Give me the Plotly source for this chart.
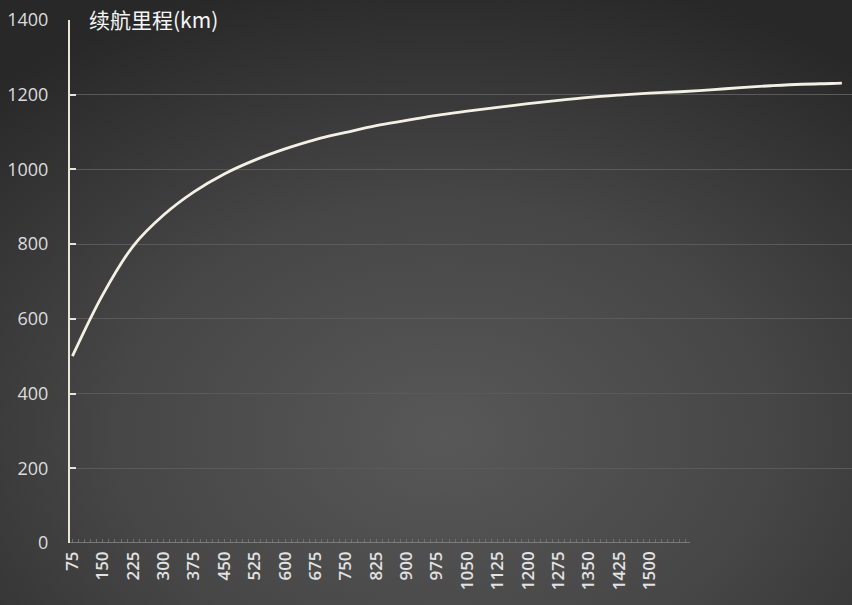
import base64
import plotly.graph_objects as go

# 数据：横轴数值与续航里程
x_vals = [75, 150, 225, 300, 375, 450, 525, 600, 675, 750, 825, 900, 975,
          1050, 1125, 1200, 1275, 1350, 1425, 1500, 1575, 1650, 1725, 1800,
          1875, 1950, 1975]
range_km = [500, 665, 795, 878, 940, 988, 1025, 1055, 1080, 1099, 1117, 1131,
            1145, 1156, 1166, 1176, 1185, 1193, 1199, 1204, 1208, 1213, 1219,
            1224, 1228, 1230, 1231]

x_tick_vals = list(range(75, 1501, 75))
x_tick_text = [str(v) for v in x_tick_vals]
y_tick_vals = [0, 200, 400, 600, 800, 1000, 1200, 1400]

W, H = 852, 605

# 径向渐变背景（SVG）
svg = f"""<svg xmlns='http://www.w3.org/2000/svg' width='{W}' height='{H}'>
<defs><radialGradient id='g' cx='0.52' cy='0.72' r='0.78'>
<stop offset='0' stop-color='#585858'/>
<stop offset='0.5' stop-color='#464646'/>
<stop offset='1' stop-color='#282828'/>
</radialGradient></defs>
<rect width='{W}' height='{H}' fill='url(#g)'/></svg>"""
bg_src = "data:image/svg+xml;base64," + base64.b64encode(svg.encode()).decode()

fig = go.Figure()
fig.add_trace(go.Scatter(
    x=x_vals, y=range_km, mode="lines",
    line=dict(color="#f3f1e6", width=2.8, shape="spline", smoothing=1.0),
    hoverinfo="skip",
))

fig.update_layout(
    width=W, height=H,
    margin=dict(l=70, r=0, t=20, b=62),
    paper_bgcolor="#3a3a3a",
    plot_bgcolor="rgba(0,0,0,0)",
    showlegend=False,
    font=dict(family="Open Sans, Lato, sans-serif", color="#dcdcdc"),
    images=[dict(source=bg_src, xref="paper", yref="paper", x=-70 / 782, y=1 + 20 / 523,
                 sizex=W / 782, sizey=H / 523, sizing="stretch", layer="below",
                 xanchor="left", yanchor="top")],
    xaxis=dict(
        range=[69, 2000], showgrid=False, zeroline=False, showline=False,
        tickmode="array", tickvals=x_tick_vals, ticktext=x_tick_text,
        tickangle=-90, ticks="", ticklen=0, ticklabelstandoff=4,
        tickfont=dict(size=17, color="#e2e2e2", family="Open Sans", weight=600),
        minor=dict(tickmode="array", tickvals=list(range(75, 1601, 15)),
                   ticks="inside", ticklen=4, tickcolor="#6e6e6e", tickwidth=1),
    ),
    yaxis=dict(
        range=[0, 1400], tickvals=y_tick_vals,
        showgrid=True, gridcolor="#5a5a5a", gridwidth=1,
        zeroline=False, showline=True, linecolor="#e8e5d6", linewidth=2,
        ticks="inside", ticklen=6, tickcolor="#e8e5d6", tickwidth=2,
        ticklabelstandoff=16,
        tickfont=dict(size=18, color="#dcdcdc", family="Open Sans"),
    ),
    shapes=[dict(type="line", xref="x", yref="y", x0=69, x1=1600, y0=0, y1=0,
                 line=dict(color="#8a8a8a", width=1.5))],
    annotations=[dict(text="续航里程(km)", xref="paper", yref="paper",
                      x=17 / 782, y=1 + 1 / 523, xanchor="left", yanchor="middle",
                      showarrow=False,
                      font=dict(family="Noto Sans CJK SC", size=21, color="#f5f5f5"))],
)

fig.write_html("out.html", config={"displayModeBar": False},
               post_script="document.body.style.margin='0';")
